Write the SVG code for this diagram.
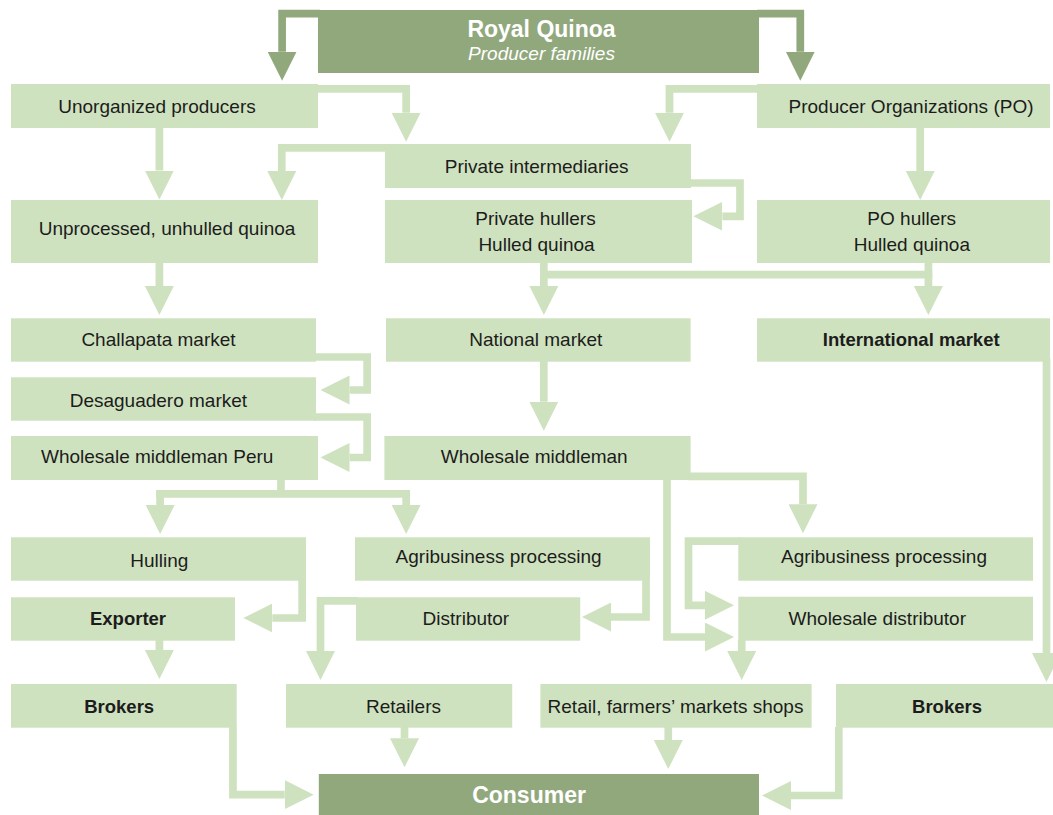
<svg xmlns="http://www.w3.org/2000/svg" width="1053" height="815" viewBox="0 0 1053 815">
<defs>
<style>
.bx{fill:#CFE2BF}
.dk{fill:#91A87D}
.t{font-family:"Liberation Sans",Arial,sans-serif;font-size:19px;fill:#1c1c1c;text-anchor:middle}
.b{font-weight:bold;font-size:18.5px}
.w{fill:#ffffff}
.cl{fill:none;stroke:#CFE2BF;stroke-width:7.7;stroke-linejoin:miter;stroke-linecap:butt;marker-end:url(#ahL)}
.cn{fill:none;stroke:#CFE2BF;stroke-width:7.7;stroke-linejoin:miter;stroke-linecap:butt}
.cd{fill:none;stroke:#91A87D;stroke-width:7.7;stroke-linejoin:miter;stroke-linecap:butt;marker-end:url(#ahD)}
</style>
<marker id="ahL" markerUnits="userSpaceOnUse" markerWidth="29" markerHeight="29" viewBox="0 0 29 29" refX="0" refY="14.5" orient="auto"><path d="M0,0 L29,14.5 L0,29 Z" fill="#CFE2BF"/></marker>
<marker id="ahD" markerUnits="userSpaceOnUse" markerWidth="29" markerHeight="29" viewBox="0 0 29 29" refX="0" refY="14.5" orient="auto"><path d="M0,0 L29,14.5 L0,29 Z" fill="#91A87D"/></marker>
</defs>
<rect width="1053" height="815" fill="#ffffff"/>

<g id="connectors">
<path class="cd" d="M320,13.7 H282.1 V51.7"/>
<path class="cd" d="M757,13.7 H800.3 V51.7"/>
<path class="cl" d="M159.4,127 V170.5"/>
<path class="cl" d="M316,88.85 H406.15 V112.7"/>
<path class="cl" d="M759,88.85 H669.5 V112.7"/>
<path class="cl" d="M387,147.85 H281.8 V171"/>
<path class="cl" d="M688,183 H740 V216.3 H722.4"/>
<path class="cl" d="M920.2,127 V171"/>
<path class="cl" d="M159.4,262 V286"/>
<path class="cn" d="M540,274.65 H932.3"/>
<path class="cl" d="M543.85,262 V286"/>
<path class="cl" d="M928.4,262 V286"/>
<path class="cl" d="M314,357 H367.15 V390 H349.5"/>
<path class="cl" d="M314,417 H367.15 V457.5 H349.5"/>
<path class="cl" d="M543.8,361 V401.7"/>
<path class="cn" d="M280.95,479 V493.85"/>
<path class="cn" d="M156.2,493.85 H410"/>
<path class="cl" d="M160.1,490 V505"/>
<path class="cl" d="M406.15,490 V505"/>
<path class="cl" d="M688,476.35 H803 V504.3"/>
<path class="cl" d="M667,479 V637 H705"/>
<path class="cl" d="M740,541.15 H688.5 V605.35 H705"/>
<path class="cl" d="M741.7,640 V651"/>
<path class="cl" d="M302.15,580 V618 H272.3"/>
<path class="cl" d="M646,580 V617 H611"/>
<path class="cl" d="M358,600.8 H320.5 V651"/>
<path class="cl" d="M159.4,640 V650"/>
<path class="cl" d="M232.95,727 V794.65 H284.7"/>
<path class="cl" d="M404.5,727 V738.3"/>
<path class="cl" d="M668.25,727 V740"/>
<path class="cl" d="M838.8,727 V795.5 H791"/>
<path class="cl" d="M1046.5,358 V653"/>
</g>

<g id="royal"><rect class="dk" x="318" y="10" width="441" height="63"/>
<text class="t w" x="541.5" y="36.5" style="font-weight:bold;font-size:23px">Royal Quinoa</text>
<text class="t w" x="541.5" y="60" style="font-style:italic">Producer families</text></g>

<g id="unorganized"><rect class="bx" x="11" y="84" width="307" height="44"/><text class="t" x="157" y="112.7">Unorganized producers</text></g>
<g id="po"><rect class="bx" x="757" y="84" width="293" height="44"/><text class="t" x="911" y="112.7">Producer Organizations (PO)</text></g>
<g id="intermediaries"><rect class="bx" x="385" y="144" width="306" height="44"/><text class="t" x="536.7" y="173.3">Private intermediaries</text></g>
<g id="unprocessed"><rect class="bx" x="11" y="200" width="307" height="63"/><text class="t" x="167" y="235">Unprocessed, unhulled quinoa</text></g>
<g id="privatehullers"><rect class="bx" x="385" y="200" width="307" height="63"/><text class="t" x="535.5" y="225">Private hullers</text><text class="t" x="536.5" y="250.7">Hulled quinoa</text></g>
<g id="pohullers"><rect class="bx" x="757" y="200" width="293" height="63"/><text class="t" x="911.7" y="225">PO hullers</text><text class="t" x="911.9" y="250.7">Hulled quinoa</text></g>
<g id="challapata"><rect class="bx" x="11" y="318.3" width="305" height="43.4"/><text class="t" x="158.5" y="345.7">Challapata market</text></g>
<g id="national"><rect class="bx" x="386" y="318.3" width="304.6" height="43.4"/><text class="t" x="535.8" y="345.7">National market</text></g>
<g id="international"><rect class="bx" x="757" y="318.3" width="293" height="43.4"/><text class="t b" x="911.2" y="345.7">International market</text></g>
<g id="desaguadero"><rect class="bx" x="11" y="377.3" width="305" height="43.4"/><text class="t" x="158.4" y="407.3">Desaguadero market</text></g>
<g id="wholesaleperu"><rect class="bx" x="11" y="436" width="307" height="44"/><text class="t" x="157.2" y="463.3">Wholesale middleman Peru</text></g>
<g id="wholesale"><rect class="bx" x="384.4" y="436" width="306.2" height="44"/><text class="t" x="534.2" y="463.3">Wholesale middleman</text></g>
<g id="hulling"><rect class="bx" x="11" y="537.3" width="295" height="43.4"/><text class="t" x="159.3" y="566.7">Hulling</text></g>
<g id="agri1"><rect class="bx" x="355" y="537.3" width="295" height="43.4"/><text class="t" x="498.6" y="563.3">Agribusiness processing</text></g>
<g id="agri2"><rect class="bx" x="738.3" y="537.3" width="294.7" height="43.4"/><text class="t" x="884" y="563.3">Agribusiness processing</text></g>
<g id="exporter"><rect class="bx" x="11" y="597.3" width="224" height="43.4"/><text class="t b" x="128" y="625">Exporter</text></g>
<g id="distributor"><rect class="bx" x="356" y="597.3" width="224.2" height="43.4"/><text class="t" x="465.9" y="625">Distributor</text></g>
<g id="wholesaledist"><rect class="bx" x="738.3" y="596.7" width="294.7" height="44"/><text class="t" x="877.3" y="625">Wholesale distributor</text></g>
<g id="brokers1"><rect class="bx" x="11" y="684" width="225.7" height="43.7"/><text class="t b" x="119.2" y="712.7">Brokers</text></g>
<g id="retailers"><rect class="bx" x="286" y="684" width="226.2" height="43.7"/><text class="t" x="403.5" y="712.7">Retailers</text></g>
<g id="retail"><rect class="bx" x="540.4" y="684" width="271.2" height="43.7"/><text class="t" x="675.5" y="712.7">Retail, farmers’ markets shops</text></g>
<g id="brokers2"><rect class="bx" x="836" y="684" width="217" height="43.7"/><text class="t b" x="947" y="712.7">Brokers</text></g>
<g id="consumer"><rect class="dk" x="318.8" y="774" width="440.2" height="41"/><text class="t w" x="529" y="803" style="font-weight:bold;font-size:23px">Consumer</text></g>
</svg>
